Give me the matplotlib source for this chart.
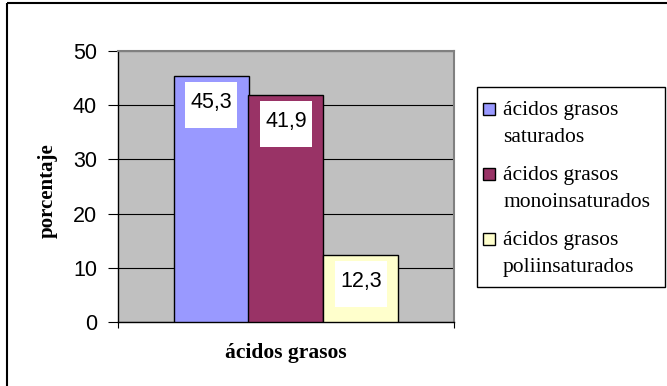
import matplotlib
matplotlib.use("Agg")
import matplotlib.pyplot as plt
from matplotlib.patches import Rectangle
from matplotlib.transforms import Affine2D, ScaledTranslation

# composición de ácidos grasos (%)
series_names = ["ácidos grasos\nsaturados",
                "ácidos grasos\nmonoinsaturados",
                "ácidos grasos\npoliinsaturados"]
values = [45.3, 41.9, 12.3]
value_labels = ["45,3", "41,9", "12,3"]
colors = ["#9999FF", "#993366", "#FFFFCC"]
yticks = [0, 10, 20, 30, 40, 50]
category = "ácidos grasos"
ylabel = "porcentaje"

W, H = 667, 386
fig = plt.figure(figsize=(W / 100, H / 100), dpi=100)


def px(x, y):
    # pixel position (from top-left) -> figure fraction
    return x / W, 1 - y / H


# outer chart frame
fig.add_artist(Rectangle(px(7, 3), 1.0, -1.0, transform=fig.transFigure,
                         fill=False, edgecolor="black", lw=1.5))

ax = fig.add_axes([118 / W, 1 - 322 / H, 336 / W, 271 / H])
ax.set_facecolor("#C0C0C0")

bar_w = 75 / 336
centers = [0.5 + (i - 1) * bar_w for i in range(len(values))]
ax.bar(centers, values, width=bar_w, color=colors, edgecolor="black",
       linewidth=1.0, zorder=3)

ax.set_xlim(0, 1)
ax.set_ylim(0, 50)
ax.set_yticks(yticks)
ax.set_yticklabels([str(t) for t in yticks], family="Liberation Sans", fontsize=15.5)
ax.set_xticks([0, 1])
ax.set_xticklabels([])
ax.tick_params(axis="y", direction="out", length=7.2, width=0.8, pad=8)
ax.tick_params(axis="x", direction="out", length=4.5, width=0.8)
ax.yaxis.grid(True, color="black", linewidth=0.8)
ax.set_axisbelow(True)

for side in ("top", "right"):
    ax.spines[side].set_color("#808080")
    ax.spines[side].set_linewidth(1.5)
for side in ("left", "bottom"):
    ax.spines[side].set_color("black")
    ax.spines[side].set_linewidth(1.0)

# white value boxes hanging below each bar top
box_w, box_h, box_gap = 52, 46, 6
for xc, v, txt in zip(centers, values, value_labels):
    trans = Affine2D().translate(-box_w / 2, -box_gap - box_h) + \
        ScaledTranslation(xc, v, ax.transData)
    ax.add_artist(Rectangle((0, 0), box_w, box_h, transform=trans,
                            facecolor="white", edgecolor="none", zorder=4))
    ax.annotate(txt, (xc, v), xytext=(0, -32 * 0.72), textcoords="offset points",
                ha="center", va="baseline", fontsize=15.5,
                family="Liberation Sans", zorder=5)

fig.text(*px(48, 191), ylabel, rotation=90, ha="center", va="center",
         family="Liberation Serif", fontweight="bold", fontsize=15)
fig.text(*px(286, 358), category, ha="center", va="baseline",
         family="Liberation Serif", fontweight="bold", fontsize=15.5)

# legend box
lx0, ly0, lx1, ly1 = 477, 87, 665, 287
fig.add_artist(Rectangle(px(lx0, ly1), (lx1 - lx0) / W, (ly1 - ly0) / H,
                         transform=fig.transFigure, facecolor="white",
                         edgecolor="black", lw=1.0))
for i, (name, c) in enumerate(zip(series_names, colors)):
    base = 115 + 65 * i
    fig.add_artist(Rectangle(px(483, base), 12 / W, 12 / H,
                             transform=fig.transFigure, facecolor=c,
                             edgecolor="black", lw=1.0))
    for j, line in enumerate(name.split("\n")):
        fig.text(*px(503, base + 27 * j), line, ha="left", va="baseline",
                 family="Liberation Serif", fontsize=15.5)

fig.savefig("out.png", dpi=100)
